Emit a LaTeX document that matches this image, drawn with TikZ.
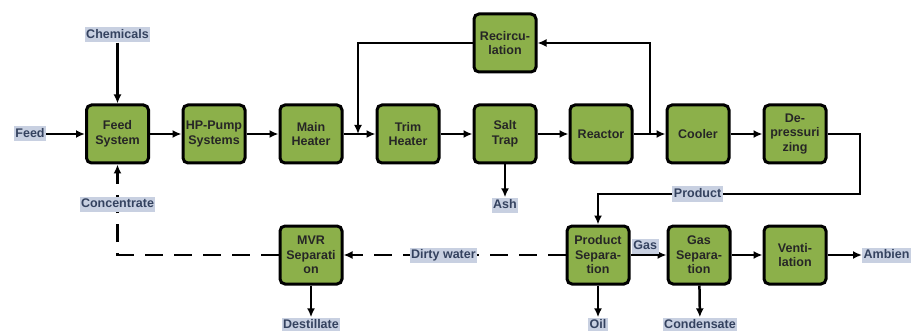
\documentclass[tikz,border=0pt]{standalone}
\usepackage{fontspec}
\setmainfont{Liberation Sans}
\usetikzlibrary{positioning,arrows.meta}
\definecolor{boxgreen}{HTML}{8CB04A}
\definecolor{lblfill}{HTML}{C8D0E1}
\definecolor{lbltext}{HTML}{34425F}
\tikzset{
  unit/.style={draw,line width=3pt,rounded corners=5pt,fill=boxgreen,
    minimum width=62pt,minimum height=58pt,align=center,inner sep=1pt,
    font=\fontsize{12.5}{14.5}\selectfont\bfseries,text=black!85},
  lbl/.style={fill=lblfill,text=lbltext,inner xsep=1.5pt,inner ysep=1.5pt,
    text height=9.5pt,text depth=2.5pt,font=\fontsize{12.5}{14.5}\selectfont\bfseries},
  flow/.style={line width=2.5pt,-{Latex[length=9pt,width=8pt]}},
  waste/.style={flow,dash pattern=on 18pt off 11pt}
}
\begin{document}
\begin{tikzpicture}[x=1pt,y=-1pt]
\useasboundingbox (0,0) rectangle (912,331);
% process chain
\node [unit] (feedsys) at (117.5,134) {Feed\\System};
\node [unit] (hppump) at (214,134) {HP-Pump\\Systems};
\node [unit] (mainheater) at (311,134) {Main\\Heater};
\node [unit] (trimheater) at (408,134) {Trim\\Heater};
\node [unit] (salttrap) at (505,134) {Salt\\Trap};
\node [unit] (reactor) at (601,134) {Reactor};
\node [unit] (cooler) at (698,134) {Cooler};
\node [unit] (depress) at (795,134) {De-\\pressuri\\zing};
\node [unit] (recirc) at (505,43) {Recircu-\\lation};
\node [unit] (mvr) at (311,255) {MVR\\Separati\\on};
\node [unit] (prodsep) at (598,255) {Product\\Separa-\\tion};
\node [unit] (gassep) at (699,255) {Gas\\Separa-\\tion};
\node [unit] (vent) at (795,255) {Venti-\\lation};
% in/out labels
\node [lbl] (feed) at (30,134) {Feed};
\node [lbl] (chem) at (117.5,35) {Chemicals};
\node [lbl] (ash) at (505,205) {Ash};
\node [lbl] (destil) at (311,325) {Destillate};
\node [lbl] (oil) at (598,325) {Oil};
\node [lbl] (condens) at (700,325) {Condensate};
\node [lbl,anchor=west] (ambien) at (862,255) {Ambien};
\coordinate (recsplit) at (650,134);
\coordinate (recjoin) at (358,134);
\coordinate (prodturn) at (860,194);
% main line
\draw [flow] (feed) -- (feedsys);
\draw [flow] (chem) -- (feedsys);
\draw [flow] (feedsys) -- (hppump);
\draw [flow] (hppump) -- (mainheater);
\draw [flow] (mainheater) -- (trimheater);
\draw [flow] (trimheater) -- (salttrap);
\draw [flow] (salttrap) -- (reactor);
\draw [flow] (reactor) -- (cooler);
\draw [flow] (cooler) -- (depress);
\draw [flow] (salttrap) -- (ash);
% recirculation loop
\draw [flow] (recsplit) |- (recirc.east);
\draw [flow] (recirc.west) -| (recjoin);
% product
\draw [flow] (depress.east) -| (prodturn) -| node [lbl,pos=0.31] (prodlbl) {Product} (prodsep.north);
\draw [flow] (prodsep) -- node [lbl,pos=0.41,above=0pt] (gaslbl) {Gas} (gassep);
\draw [flow] (gassep) -- (vent);
\draw [flow] (vent) -- (ambien);
\draw [flow] (prodsep) -- (oil);
\draw [flow] (gassep) -- (condens);
\draw [flow] (mvr) -- (destil);
% water return
\draw [waste] (prodsep.west) -- node [lbl,pos=0.55] (dirty) {Dirty water} (mvr.east);
\draw [waste] (mvr.west) -| node [lbl,pos=0.78] (conc) {Concentrate} (feedsys.south);
\end{tikzpicture}
\end{document}
